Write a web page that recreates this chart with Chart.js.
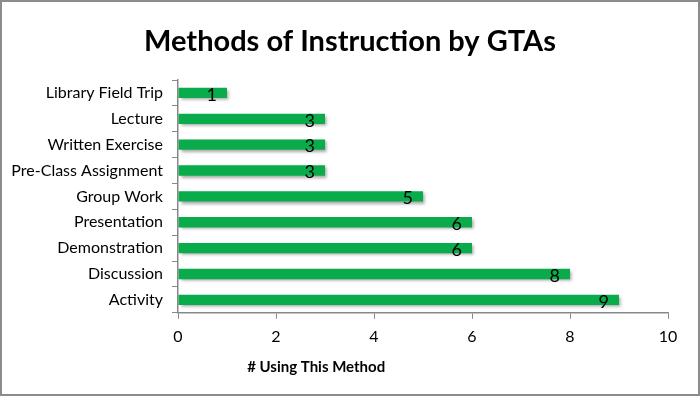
<!DOCTYPE html>
<html lang="en">
<head>
    <meta charset="UTF-8">
    <title>Methods of Instruction by GTAs</title>
    <script src="https://cdn.jsdelivr.net/npm/chart.js"></script>
    <style>
        html, body { margin: 0; padding: 0; background: #fff; }
        #wrap { width: 700px; height: 396px; }
    </style>
</head>
<body>
    <div id="wrap"><canvas id="methodsChart" width="700" height="396"></canvas></div>

    <script>
        // data
        const methods = ['Library Field Trip', 'Lecture', 'Written Exercise', 'Pre-Class Assignment',
            'Group Work', 'Presentation', 'Demonstration', 'Discussion', 'Activity'];
        const counts = [1, 3, 3, 3, 5, 6, 6, 8, 9];
        const xTicks = [0, 2, 4, 6, 8, 10];
        const chartTitle = 'Methods of Instruction by GTAs';
        const xTitle = '# Using This Method';

        const fontFamily = 'Lato, "Open Sans", sans-serif';

        // grey frame round the whole picture
        const framePlugin = {
            id: 'frame',
            afterDraw(chart) {
                const ctx = chart.ctx;
                ctx.save();
                ctx.strokeStyle = '#8c8c8c';
                ctx.lineWidth = 2;
                ctx.strokeRect(1, 1, chart.width - 2, chart.height - 2);
                ctx.restore();
            }
        };

        // soft shadow under the bars
        const shadowPlugin = {
            id: 'barShadow',
            beforeDatasetsDraw(chart) {
                const ctx = chart.ctx;
                ctx.save();
                ctx.shadowColor = 'rgba(0,0,0,0.35)';
                ctx.shadowBlur = 3;
                ctx.shadowOffsetX = 2;
                ctx.shadowOffsetY = 2;
            },
            afterDatasetsDraw(chart) {
                chart.ctx.restore();
            }
        };

        // value labels at the inside end of each bar
        const valueLabels = {
            id: 'valueLabels',
            afterDatasetsDraw(chart) {
                const ctx = chart.ctx;
                const meta = chart.getDatasetMeta(0);
                ctx.save();
                ctx.font = '18px ' + fontFamily;
                ctx.fillStyle = '#000';
                ctx.textAlign = 'right';
                ctx.textBaseline = 'middle';
                meta.data.forEach((bar, i) => {
                    ctx.fillText(String(counts[i]), bar.x - 10, bar.y + 2);
                });
                ctx.restore();
            }
        };

        // chart title centred on the whole picture, axis title left of centre like the original
        const titles = {
            id: 'titles',
            afterDraw(chart) {
                const ctx = chart.ctx;
                const x = chart.scales.x;
                ctx.save();
                ctx.fillStyle = '#000';
                ctx.textAlign = 'center';
                ctx.textBaseline = 'middle';
                ctx.font = 'bold 29px ' + fontFamily;
                ctx.fillText(chartTitle, chart.width / 2, 42);
                ctx.font = 'bold 15px ' + fontFamily;
                ctx.fillText(xTitle, x.getPixelForValue(2.82), 367);
                ctx.restore();
            }
        };

        const ctx = document.getElementById('methodsChart').getContext('2d');
        new Chart(ctx, {
            type: 'bar',
            data: {
                labels: methods,
                datasets: [{
                    data: counts,
                    backgroundColor: '#0aab4b',
                    borderWidth: 0,
                    categoryPercentage: 1,
                    barPercentage: 0.4
                }]
            },
            plugins: [shadowPlugin, valueLabels, titles, framePlugin],
            options: {
                indexAxis: 'y',
                responsive: false,
                animation: false,
                layout: { padding: { top: 80, right: 32, bottom: 42, left: 10 } },
                plugins: {
                    legend: { display: false },
                    tooltip: { enabled: false },
                    title: { display: false }
                },
                scales: {
                    x: {
                        min: 0,
                        max: 10,
                        afterBuildTicks(axis) {
                            axis.ticks = xTicks.map(v => ({ value: v }));
                        },
                        grid: {
                            drawOnChartArea: false,
                            drawTicks: true,
                            tickLength: 6,
                            color: '#888'
                        },
                        border: { color: '#888', width: 1.5 },
                        ticks: {
                            color: '#000',
                            padding: 8,
                            font: { family: fontFamily, size: 16 }
                        }
                    },
                    y: {
                        afterFit(axis) {
                            axis.width = 168;
                        },
                        grid: {
                            drawOnChartArea: false,
                            offset: true,
                            tickLength: 6,
                            color: '#888'
                        },
                        border: { color: '#888', width: 1.5 },
                        ticks: {
                            color: '#000',
                            padding: 9,
                            font: { family: fontFamily, size: 16 }
                        }
                    }
                }
            }
        });
    </script>
</body>
</html>
